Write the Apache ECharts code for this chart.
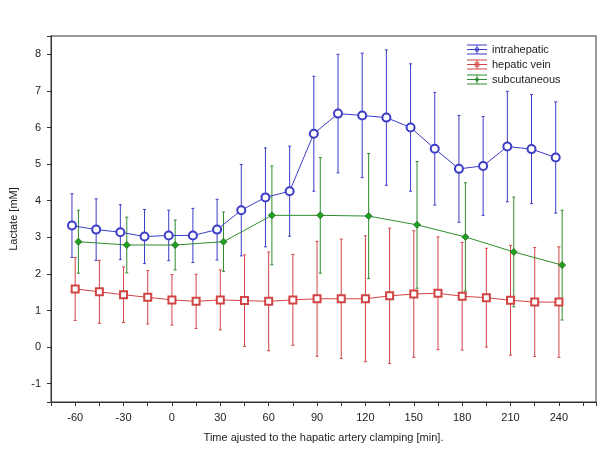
<!DOCTYPE html>
<html>
<head>
<meta charset="utf-8">
<title>Lactate</title>
<script src="https://cdn.jsdelivr.net/npm/echarts@6/dist/echarts.min.js"></script>
<style>
	html,body{margin:0;padding:0;background:#fff;}
	#part1{width:605px;height:454px;}
</style>
</head>
<body>
<div id="part1"></div>
<script>
// time points [min]
var times15 = [-60,-45,-30,-15,0,15,30,45,60,75,90,105,120,135,150,165,180,195,210,225,240];
var times30 = [-60,-30,0,30,60,90,120,150,180,210,240];

// intrahepatic (mean, sd)
var intraMean = [3.32,3.21,3.14,3.02,3.05,3.05,3.21,3.74,4.09,4.26,5.83,6.38,6.33,6.27,6.00,5.42,4.87,4.95,5.48,5.41,5.18];
var intraSd   = [0.87,0.84,0.75,0.74,0.69,0.74,0.83,1.25,1.35,1.23,1.57,1.62,1.70,1.85,1.74,1.54,1.46,1.35,1.51,1.49,1.52];

// hepatic vein
var veinMean = [1.59,1.51,1.43,1.36,1.29,1.25,1.29,1.27,1.25,1.29,1.32,1.32,1.32,1.40,1.45,1.47,1.39,1.35,1.28,1.23,1.23];
var veinSd   = [0.86,0.86,0.76,0.73,0.69,0.74,0.82,1.25,1.35,1.24,1.57,1.63,1.72,1.85,1.73,1.54,1.47,1.35,1.50,1.49,1.51];

// subcutaneous
var subMean = [2.88,2.79,2.79,2.88,3.60,3.60,3.58,3.34,3.01,2.60,2.24];
var subSd   = [0.86,0.76,0.68,0.81,1.35,1.58,1.71,1.73,1.48,1.50,1.50];

var names = ['intrahepatic','hepatic vein','subcutaneous'];

var BLUE = '#3c3cc8';
var RED = '#d04444';
var GREEN = '#2e8b2e';

// small shift so the bars don't sit on top of each other
var shiftBlue = -2, shiftRed = 0, shiftGreen = 2;

function points(t, m, shift){
	var out = [];
	for(var i=0;i<t.length;i++){
		out.push([t[i]+shift, m[i]]);
	}
	return out;
}

function bars(t, m, s, shift){
	var out = [];
	for(var i=0;i<t.length;i++){
		out.push([t[i]+shift, m[i]-s[i], m[i]+s[i]]);
	}
	return out;
}

function errorBar(color){
	return function(params, api){
		var x = api.value(0);
		var top = api.coord([x, api.value(2)]);
		var bot = api.coord([x, api.value(1)]);
		var w = 1.5;
		var st = {stroke: color, lineWidth: 1};
		return {
			type: 'group',
			children: [
				{type:'line', shape:{x1:top[0], y1:top[1], x2:bot[0], y2:bot[1]}, style: st},
				{type:'line', shape:{x1:top[0]-w, y1:top[1], x2:top[0]+w, y2:top[1]}, style: st},
				{type:'line', shape:{x1:bot[0]-w, y1:bot[1], x2:bot[0]+w, y2:bot[1]}, style: st}
			]
		};
	};
}

// legend icons: error bar symbol with the marker in the middle
var iconBase = 'M0,0H20V1H0Z M0,4.5H20V5.5H0Z M0,9H20V10H0Z M9.5,0H10.5V10H9.5Z ';
var iconCircle = iconBase + 'M12.3,5A2.3,2.3,0,1,1,7.7,5A2.3,2.3,0,1,1,12.3,5Z M11.4,5A1.4,1.4,0,1,0,8.6,5A1.4,1.4,0,1,0,11.4,5Z';
var iconRect = iconBase + 'M7.8,2.8H12.2V7.2H7.8Z M8.7,3.7V6.3H11.3V3.7Z';
var iconDiamond = iconBase + 'M10,2.6L12.4,5L10,7.4L7.6,5Z';

var myChart = echarts.init(document.getElementById('part1'));

var option = {
	animation: false,
	textStyle: {fontFamily: 'Liberation Sans, Arial, sans-serif'},
	grid: {
		left: 49, top: 36, right: 9, bottom: 52,
		show: true, borderColor: '#777', borderWidth: 1.5
	},
	legend: {
		orient: 'vertical',
		left: 467,
		top: 42,
		padding: 0,
		itemWidth: 20,
		itemHeight: 10,
		itemGap: 0,
		textStyle: {fontSize: 11, color: '#222', lineHeight: 15},
		data: [
			{name: names[0], icon: 'path://' + iconCircle, itemStyle: {color: BLUE, borderWidth: 0}},
			{name: names[1], icon: 'path://' + iconRect, itemStyle: {color: RED, borderWidth: 0}},
			{name: names[2], icon: 'path://' + iconDiamond, itemStyle: {color: GREEN, borderWidth: 0}}
		]
	},
	xAxis: {
		type: 'value',
		min: -75,
		max: 263,
		interval: 15,
		name: 'Time ajusted to the hapatic artery clamping [min].',
		nameLocation: 'middle',
		nameGap: 30,
		nameTextStyle: {fontSize: 11, color: '#222'},
		axisLine: {onZero: false, lineStyle: {color: '#333'}},
		axisTick: {inside: false, length: 4, lineStyle: {color: '#333'}},
		axisLabel: {
			fontSize: 11, color: '#222', margin: 10,
			formatter: function(v){ return v % 30 === 0 ? v : ''; }
		},
		splitLine: {show: false}
	},
	yAxis: {
		type: 'value',
		min: -1.5,
		max: 8.5,
		splitNumber: 10,
		name: 'Lactate [mM]',
		nameLocation: 'middle',
		nameGap: 32,
		nameTextStyle: {fontSize: 11, color: '#222'},
		axisLine: {show: true, onZero: false, lineStyle: {color: '#333'}},
		axisTick: {show: true, length: 4, lineStyle: {color: '#333'}},
		axisLabel: {
			fontSize: 11, color: '#222', margin: 10,
			formatter: function(v){ return Math.abs(v % 1) < 1e-9 ? v : ''; }
		},
		splitLine: {show: false}
	},
	series: [
		{
			type: 'custom', name: names[0],
			renderItem: errorBar(BLUE),
			encode: {x: 0, y: [1, 2]},
			data: bars(times15, intraMean, intraSd, shiftBlue), z: 2
		},
		{
			type: 'custom', name: names[1],
			renderItem: errorBar(RED),
			encode: {x: 0, y: [1, 2]},
			data: bars(times15, veinMean, veinSd, shiftRed), z: 2
		},
		{
			type: 'custom', name: names[2],
			renderItem: errorBar(GREEN),
			encode: {x: 0, y: [1, 2]},
			data: bars(times30, subMean, subSd, shiftGreen), z: 2
		},
		{
			type: 'line', name: names[0],
			data: points(times15, intraMean, shiftBlue),
			symbol: 'emptyCircle', symbolSize: 8,
			lineStyle: {color: BLUE, width: 1},
			itemStyle: {color: BLUE, borderColor: BLUE, borderWidth: 0.8},
			z: 3
		},
		{
			type: 'line', name: names[1],
			data: points(times15, veinMean, shiftRed),
			symbol: 'emptyRect', symbolSize: 7,
			lineStyle: {color: RED, width: 1},
			itemStyle: {color: RED, borderColor: RED, borderWidth: 0.8},
			z: 3
		},
		{
			type: 'line', name: names[2],
			data: points(times30, subMean, shiftGreen),
			symbol: 'diamond', symbolSize: 7,
			lineStyle: {color: GREEN, width: 1},
			itemStyle: {color: '#22a022', borderColor: '#1a6a1a', borderWidth: 0.8},
			z: 3
		}
	]
};

myChart.setOption(option);
</script>
</body>
</html>
